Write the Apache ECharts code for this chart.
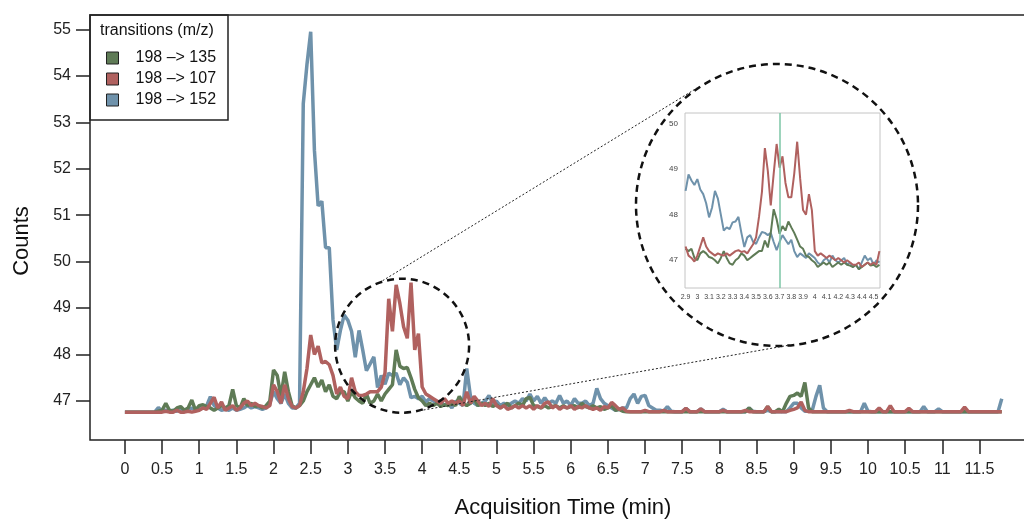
<!DOCTYPE html>
<html>
<head>
<meta charset="utf-8">
<script src="https://cdn.jsdelivr.net/npm/echarts@6/dist/echarts.min.js"></script>
<style>
  html, body { margin: 0; padding: 0; background: #fff; }
  #chart { width: 1024px; height: 522px; }
</style>
</head>
<body>
<div id="chart"></div>
<script>
// ---- main trace, sampled every 0.05 min from 0 to 11.8 ----
var mainStart = 0;
var mainStep = 0.05;

var green135 = [
  46.76,46.76,46.76,46.76,46.76,46.76,46.76,46.76,46.76,46.78,
  46.80,46.95,46.80,46.78,46.85,46.88,46.80,46.85,47.02,46.80,
  46.90,46.92,46.88,46.85,46.80,46.85,46.90,46.85,46.90,47.25,
  46.90,46.85,47.05,46.90,46.95,46.88,46.90,46.85,46.90,47.00,
  47.67,47.55,47.10,47.63,47.20,46.90,46.85,46.90,47.00,47.20,
  47.35,47.50,47.30,47.45,47.20,47.35,47.10,47.05,47.20,47.20,
  47.00,47.20,47.07,47.00,46.95,47.15,46.95,47.00,47.15,47.00,
  47.15,47.25,47.35,48.10,47.75,47.70,47.72,47.50,47.25,47.07,
  47.00,46.90,46.95,46.90,46.95,46.88,46.92,46.90,46.95,46.90,
  47.10,46.95,46.90,46.95,47.05,46.90,46.95,46.90,46.95,46.88,
  46.92,46.85,46.90,46.95,46.85,46.90,46.95,46.90,47.05,47.08,
  46.90,46.88,46.85,46.90,46.85,46.88,46.90,46.85,46.90,46.85,
  46.88,46.90,46.85,46.95,46.88,46.85,46.90,46.85,46.88,46.82,
  46.85,46.90,46.80,46.82,46.78,46.77,46.77,46.77,46.77,46.77,
  46.77,46.77,46.77,46.77,46.77,46.77,46.77,46.77,46.77,46.77,
  46.77,46.77,46.77,46.77,46.77,46.77,46.77,46.77,46.77,46.77,
  46.77,46.77,46.77,46.77,46.77,46.77,46.77,46.77,46.85,46.77,
  46.77,46.77,46.77,46.88,46.77,46.77,46.82,46.77,46.95,47.10,
  47.12,47.17,47.10,47.40,46.85,46.77,46.77,46.77,46.77,46.77,
  46.77,46.77,46.77,46.77,46.77,46.77,46.77,46.77,46.77,46.77,
  46.77,46.77,46.77,46.77,46.77,46.77,46.77,46.77,46.77,46.77,
  46.77,46.77,46.77,46.77,46.77,46.77,46.77,46.77,46.77,46.77,
  46.77,46.77,46.77,46.77,46.77,46.77,46.77,46.77,46.77,46.77,
  46.77,46.77,46.77,46.77,46.77,46.77,46.77
];

var red107 = [
  46.76,46.76,46.76,46.76,46.76,46.76,46.76,46.76,46.76,46.76,
  46.76,46.78,46.76,46.76,46.80,46.76,46.76,46.78,46.76,46.78,
  46.80,46.85,46.82,46.95,47.08,46.85,46.98,46.80,46.85,46.90,
  46.80,46.85,46.95,47.00,46.90,46.95,46.90,46.88,46.85,46.90,
  47.35,47.20,46.95,47.35,47.05,46.88,46.85,46.90,47.20,47.70,
  48.42,48.00,48.18,47.82,47.85,47.78,47.55,47.15,47.30,47.10,
  47.05,47.50,47.20,47.12,47.12,47.15,47.20,47.20,47.20,47.30,
  47.60,49.20,48.50,49.50,49.10,48.60,48.35,49.55,48.10,48.45,
  47.30,47.15,47.10,47.05,47.00,46.95,47.05,46.95,47.00,46.95,
  47.00,46.90,47.20,46.95,47.10,47.00,46.90,46.95,46.88,47.05,
  46.90,46.85,46.90,46.82,46.85,46.90,46.85,46.90,46.85,46.90,
  46.82,46.90,46.85,46.95,46.98,46.85,46.90,46.82,46.88,46.85,
  46.90,46.82,46.88,46.85,46.90,46.85,46.82,46.85,46.80,46.88,
  46.85,46.97,46.90,46.82,46.85,46.78,46.77,46.77,46.77,46.77,
  46.80,46.77,46.77,46.77,46.77,46.80,46.77,46.77,46.77,46.77,
  46.77,46.84,46.77,46.77,46.77,46.83,46.77,46.77,46.77,46.77,
  46.77,46.80,46.77,46.77,46.77,46.77,46.77,46.80,46.77,46.77,
  46.77,46.77,46.77,46.88,46.77,46.77,46.77,46.77,46.77,46.80,
  46.82,46.85,46.98,46.80,46.77,46.77,46.77,46.77,46.77,46.77,
  46.77,46.77,46.77,46.77,46.77,46.80,46.77,46.77,46.77,46.77,
  46.77,46.77,46.77,46.85,46.77,46.77,46.90,46.77,46.77,46.77,
  46.77,46.84,46.77,46.77,46.77,46.77,46.77,46.77,46.77,46.77,
  46.77,46.77,46.77,46.77,46.77,46.77,46.87,46.77,46.77,46.77,
  46.77,46.77,46.77,46.77,46.77,46.77,46.77
];

var blue152 = [
  46.76,46.76,46.76,46.76,46.76,46.76,46.76,46.76,46.76,46.86,
  46.78,46.80,46.78,46.80,46.78,46.82,46.78,46.80,46.85,46.80,
  46.82,46.85,46.90,47.09,46.90,46.85,46.80,46.82,46.80,46.85,
  46.80,46.82,46.85,46.90,46.85,46.88,46.85,46.82,46.85,46.95,
  47.20,47.05,46.95,47.15,46.95,46.85,46.85,46.95,53.40,54.25,
  54.95,52.40,51.20,51.30,50.30,50.30,48.75,48.10,48.52,48.85,
  48.74,48.50,47.94,48.52,48.10,47.65,47.80,47.95,47.29,47.55,
  47.36,47.60,47.55,47.60,47.35,47.50,47.40,47.07,47.10,47.05,
  47.10,46.98,47.05,47.00,46.95,47.00,46.90,46.95,46.85,47.00,
  46.95,46.90,47.70,47.10,46.95,46.90,46.95,47.00,47.12,46.95,
  47.00,46.90,46.95,46.90,46.95,47.00,46.95,47.05,47.00,47.15,
  47.00,47.10,46.95,47.07,46.95,47.00,46.95,47.12,46.95,47.00,
  46.90,47.05,46.95,46.95,47.00,46.90,46.95,47.27,47.05,46.95,
  46.90,46.85,46.80,46.82,46.85,46.85,47.05,47.15,46.95,47.10,
  47.12,46.90,46.85,46.80,46.80,46.78,46.88,46.78,46.77,46.77,
  46.77,46.84,46.77,46.77,46.77,46.83,46.77,46.77,46.77,46.77,
  46.77,46.82,46.77,46.77,46.77,46.77,46.77,46.77,46.85,46.78,
  46.77,46.77,46.77,46.80,46.77,46.77,46.77,46.77,46.77,46.85,
  46.95,46.95,46.85,46.78,46.78,46.80,47.10,47.34,46.85,46.77,
  46.77,46.77,46.77,46.77,46.77,46.77,46.77,46.77,46.77,46.95,
  46.78,46.77,46.77,46.77,46.77,46.77,46.77,46.77,46.77,46.77,
  46.77,46.77,46.77,46.77,46.77,46.88,46.77,46.77,46.77,46.83,
  46.77,46.77,46.77,46.77,46.77,46.77,46.77,46.77,46.77,46.77,
  46.77,46.77,46.77,46.77,46.77,46.77,47.05
];

// ---- zoomed inset, sampled every 0.025 min from 2.9 to 4.55 ----
var insetStart = 2.9;
var insetStep = 0.025;

var insetGreen = [
  47.25,47.20,47.25,47.05,47.00,47.15,47.20,47.15,
  47.07,47.05,47.00,46.93,47.05,47.20,47.05,46.93,
  46.90,47.00,47.05,47.15,47.10,47.00,47.05,47.10,
  47.15,47.20,47.20,47.43,47.28,47.60,48.12,47.90,
  47.58,47.75,47.65,47.85,47.72,47.60,47.45,47.30,
  47.25,47.10,47.07,47.00,46.95,46.85,46.90,46.95,
  46.90,46.95,46.85,46.90,46.95,46.90,46.95,46.90,
  46.88,46.85,46.90,46.80,46.85,46.90,46.95,46.88,
  46.90,46.85,46.90
];
var insetRed = [
  47.30,47.10,47.05,46.97,47.10,47.30,47.50,47.30,
  47.20,47.15,47.10,47.15,47.12,47.10,47.15,47.10,
  47.15,47.20,47.22,47.18,47.20,47.15,47.25,47.35,
  47.50,47.95,48.50,49.46,48.96,48.20,48.90,49.55,
  49.03,49.28,48.70,48.38,48.38,48.90,49.60,48.80,
  48.10,48.00,48.45,48.10,47.20,47.10,47.15,47.10,
  47.05,47.10,47.05,47.00,47.05,47.00,46.95,47.00,
  46.95,46.90,46.90,46.95,46.85,46.90,46.95,46.90,
  46.95,46.90,47.20
];
var insetBlue = [
  48.52,48.88,48.75,48.65,48.78,48.55,48.45,48.25,
  47.94,48.15,48.52,48.35,48.00,47.65,47.72,47.68,
  47.83,47.85,47.95,47.60,47.29,47.50,47.55,47.40,
  47.36,47.50,47.62,47.60,47.55,47.60,47.40,47.22,
  47.40,47.55,47.45,47.35,47.45,47.20,47.07,47.15,
  47.10,47.05,47.15,47.10,47.05,46.95,46.90,47.00,
  47.05,46.95,47.10,47.00,46.95,47.00,47.05,46.90,
  46.95,46.85,46.90,46.80,46.95,47.10,47.00,47.05,
  46.90,47.00,46.95
];

var seriesNames = ['198 –> 135', '198 –> 107', '198 –> 152'];
var seriesColors = ['#5f7b56', '#b0615f', '#6f92ab'];

var yTicks = [47, 48, 49, 50, 51, 52, 53, 54, 55];
var xTicks = [0, 0.5, 1, 1.5, 2, 2.5, 3, 3.5, 4, 4.5, 5, 5.5, 6, 6.5, 7, 7.5, 8, 8.5, 9, 9.5, 10, 10.5, 11, 11.5];
var insetYTicks = [47, 48, 49, 50];
var insetXTicks = [2.9, 3, 3.1, 3.2, 3.3, 3.4, 3.5, 3.6, 3.7, 3.8, 3.9, 4, 4.1, 4.2, 4.3, 4.4, 4.5];
var markerTime = 3.7;

function pairs(start, step, values) {
    return values.map(function (v, i) {
        return [+(start + i * step).toFixed(3), v];
    });
}

var chart = echarts.init(document.getElementById('chart'));
var font = 'Liberation Sans, Arial, Helvetica, sans-serif';

var mainData = [green135, red107, blue152];
var insetData = [insetGreen, insetRed, insetBlue];
var drawOrder = [3, 4, 2];

var series = [];
mainData.forEach(function (vals, i) {
    series.push({
        name: seriesNames[i],
        type: 'line',
        xAxisIndex: 0,
        yAxisIndex: 0,
        z: drawOrder[i],
        showSymbol: false,
        data: pairs(mainStart, mainStep, vals),
        itemStyle: { color: seriesColors[i] },
        lineStyle: { color: seriesColors[i], width: 3.5 }
    });
});
insetData.forEach(function (vals, i) {
    var s = {
        name: seriesNames[i],
        type: 'line',
        xAxisIndex: 1,
        yAxisIndex: 1,
        z: drawOrder[i],
        showSymbol: false,
        data: pairs(insetStart, insetStep, vals),
        itemStyle: { color: seriesColors[i] },
        lineStyle: { color: seriesColors[i], width: 2 }
    };
    if (i === 0) {
        s.markLine = {
            silent: true,
            symbol: ['none', 'none'],
            label: { show: false },
            lineStyle: { color: '#7cc6a6', width: 1.5, type: 'solid' },
            data: [{ xAxis: markerTime }]
        };
    }
    series.push(s);
});

option = {
    animation: false,
    backgroundColor: '#fff',
    textStyle: { fontFamily: font },
    grid: [
        { left: 90, top: 15, width: 940, height: 425, outerBoundsMode: 'none', show: true, borderColor: '#222', borderWidth: 1.5 },
        { left: 685, top: 113, width: 195, height: 175, outerBoundsMode: 'none', show: true, borderColor: '#c4c4c4', borderWidth: 1 }
    ],
    xAxis: [
        {
            type: 'value', gridIndex: 0, min: -0.47, max: 12.18,
            axisLine: { show: false, onZero: false },
            splitLine: { show: false },
            axisTick: { show: true, customValues: xTicks, length: 14, lineStyle: { color: '#222', width: 1.5 } },
            axisLabel: { customValues: xTicks, margin: 22, fontSize: 16, color: '#222', fontFamily: font }
        },
        {
            type: 'value', gridIndex: 1, min: 2.895, max: 4.555,
            axisLine: { show: false, onZero: false },
            splitLine: { show: false },
            axisTick: { show: false },
            axisLabel: { customValues: insetXTicks, margin: 6, fontSize: 7, color: '#444', fontFamily: font }
        }
    ],
    yAxis: [
        {
            type: 'value', gridIndex: 0, min: 46.16, max: 55.31,
            axisLine: { show: false, onZero: false },
            splitLine: { show: false },
            axisTick: { show: true, customValues: yTicks, length: 14, lineStyle: { color: '#222', width: 1.5 } },
            axisLabel: { customValues: yTicks, margin: 19, fontSize: 16, color: '#222', fontFamily: font }
        },
        {
            type: 'value', gridIndex: 1, min: 46.39, max: 50.23,
            axisLine: { show: false, onZero: false },
            splitLine: { show: false },
            axisTick: { show: false },
            axisLabel: { customValues: insetYTicks, margin: 7, fontSize: 8, color: '#444', fontFamily: font }
        }
    ],
    legend: {
        data: seriesNames,
        orient: 'vertical',
        left: 101,
        top: 45,
        icon: 'rect',
        itemWidth: 12,
        itemHeight: 12,
        itemGap: 5,
        itemStyle: { borderColor: '#222', borderWidth: 1 },
        textStyle: { fontSize: 16, color: '#111', fontFamily: font, lineHeight: 16, padding: [0, 0, 0, 12] }
    },
    series: series
};

chart.setOption(option, true);

// annotations: dashed circles, connectors, legend box and axis titles
var small = chart.convertToPixel({ xAxisIndex: 0, yAxisIndex: 0 }, [3.73, 48.19]);
var smallR = 67;
var big = [777, 205];
var bigR = 141;
var dashed = { fill: 'none', stroke: '#111', lineWidth: 2.5, lineDash: [7, 5] };
var dotted = { stroke: '#222', lineWidth: 1, lineDash: [2, 2] };

chart.setOption({
    graphic: [
        { type: 'circle', z: 10, shape: { cx: small[0], cy: small[1], r: smallR }, style: dashed },
        { type: 'circle', z: 1, shape: { cx: big[0], cy: big[1], r: bigR }, style: dashed },
        { type: 'line', z: 10, shape: { x1: small[0] - 19.5, y1: small[1] - 65, x2: big[0] - 80, y2: big[1] - 117 }, style: dotted },
        { type: 'line', z: 10, shape: { x1: small[0] + 17.5, y1: small[1] + 65, x2: big[0] + 13, y2: big[1] + 140 }, style: dotted },
        { type: 'rect', z: 10, shape: { x: 90, y: 15, width: 138, height: 105 }, style: { fill: 'none', stroke: '#222', lineWidth: 1.5 } },
        { type: 'text', z: 10, x: 100, y: 31, style: { text: 'transitions (m/z)', font: '16px ' + font, fill: '#111', align: 'left', verticalAlign: 'middle' } },
        { type: 'text', z: 10, x: 22, y: 241, rotation: Math.PI / 2, style: { text: 'Counts', font: '22px ' + font, fill: '#111', align: 'center', verticalAlign: 'middle' } },
        { type: 'text', z: 10, x: 563, y: 508, style: { text: 'Acquisition Time (min)', font: '22px ' + font, fill: '#111', align: 'center', verticalAlign: 'middle' } }
    ]
});

window.addEventListener('resize', function () {
    setTimeout(function () { chart.resize(); }, 0);
});
</script>
</body>
</html>
